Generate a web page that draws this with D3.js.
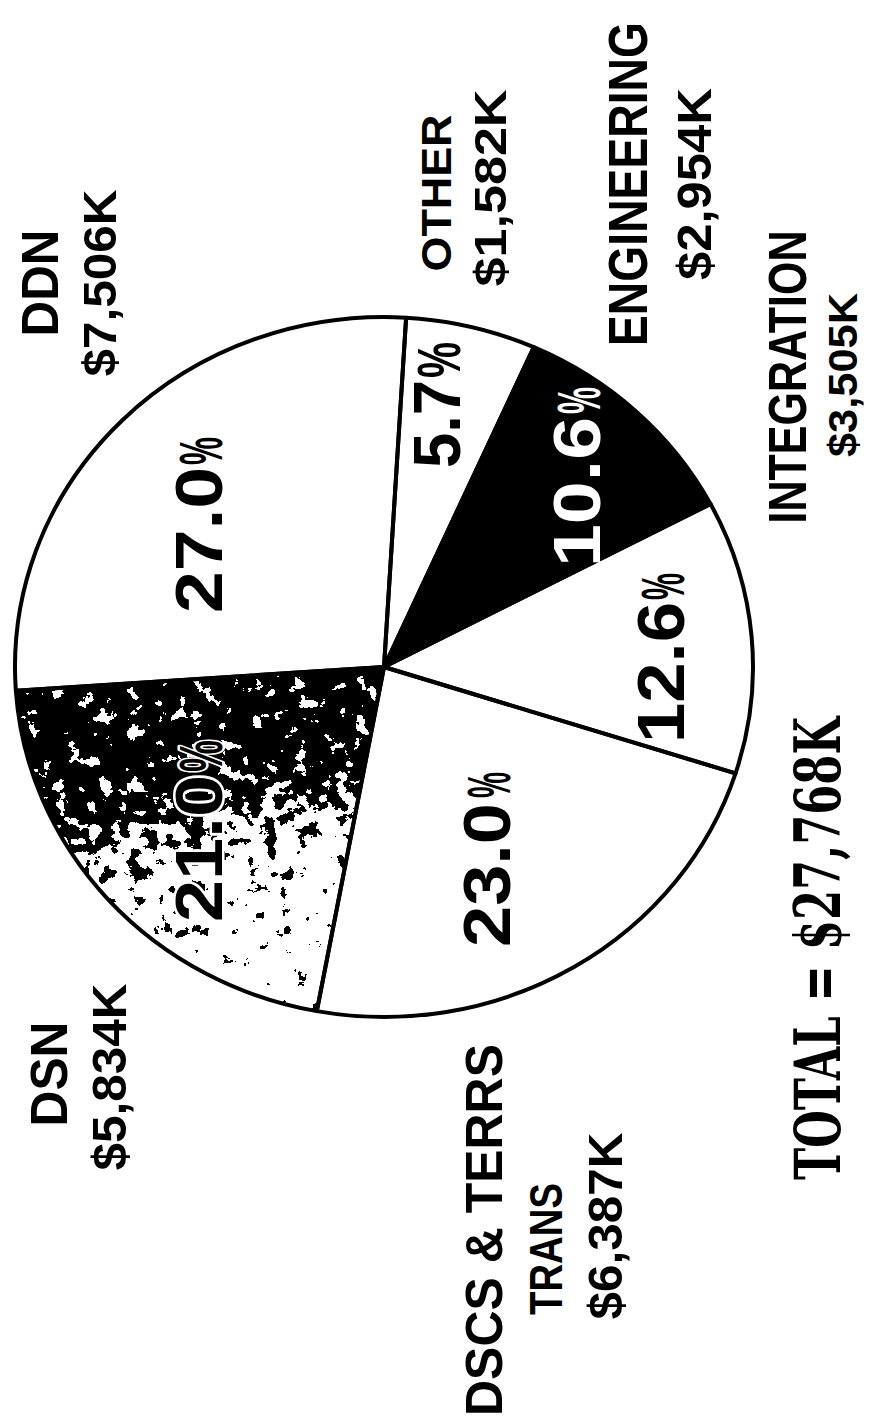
<!DOCTYPE html>
<html>
<head>
<meta charset="utf-8">
<script src="https://cdn.jsdelivr.net/npm/d3@7"></script>
<style>
  html, body { margin: 0; padding: 0; background: #fff; }
  svg { display: block; }
</style>
</head>
<body>
<script>
// ---- data (clockwise from the top of the pie) ----
const categories = ["OTHER", "ENGINEERING", "INTEGRATION", "DSCS & TERRS TRANS", "DSN", "DDN"];
const nameLines = [["OTHER"], ["ENGINEERING"], ["INTEGRATION"], ["DSCS & TERRS", "TRANS"], ["DSN"], ["DDN"]];
const values = [1582, 2954, 3505, 6387, 5834, 7506]; // $K
const totalLabel = "TOTAL";

// ---- styles / layout (kept apart from the data) ----
const sliceFill = ["#fff", "#000", "#fff", "#fff", "grain", "#fff"];
const pctColor = ["#000", "#fff", "#000", "#000", "#000", "#000"];
// name lines: [baselineX, centerY, length, fontSize, glyphHeightScale]
const nameLayout = [
  [[451, 193, 157, 42, 1]],
  [[647, 184, 324, 47, 1.18]],
  [[806, 377, 293, 54, 1]],
  [[502, 1230, 372, 51, 1], [562, 1249, 132, 47, 1]],
  [[67, 1074, 105, 52, 1]],
  [[58, 283, 107, 52, 1]]
];
// value line: [baselineX, centerY, length, fontSize]
const valueLayout = [
  [506, 188, 197, 45],
  [711, 184, 192, 48],
  [857, 375, 164, 40],
  [622, 1226, 187, 48],
  [126, 1077, 187, 49],
  [116, 283, 187, 47]
];
// percent label: [baselineX, startY, numberLength, pctStartY, pctLength]
const pctLayout = [
  [460, 468, 88, 378, 36],
  [600, 567, 150, 414, 27],
  [684, 743, 141, 600, 27],
  [510, 947, 144, 798, 26],
  [222, 922, 147, 772, 32],
  [222, 613, 146, 465, 28]
];
const totalLayout = [840, 1180, 463, 64];

const W = 872, H = 1427;
const cx = 384, cy = 667, rx = 369, ry = 350;
const startOffset = 0.06;

const svg = d3.select("body").append("svg").attr("width", W).attr("height", H);
svg.append("rect").attr("width", W).attr("height", H).attr("fill", "#fff");

const defs = svg.append("defs");
const grad = defs.append("linearGradient").attr("id", "dsnShade")
  .attr("x1", 0.1).attr("y1", 0).attr("x2", 0.3).attr("y2", 1);
[[0, "#707070"], [0.1, "#444"], [0.35, "#3e3e3e"], [0.5, "#787878"], [0.65, "#bcbcbc"], [1, "#e2e2e2"]]
  .forEach(([o, c]) => grad.append("stop").attr("offset", o).attr("stop-color", c));

const filt = defs.append("filter").attr("id", "grain")
  .attr("x", 0).attr("y", 0).attr("width", 1).attr("height", 1)
  .attr("color-interpolation-filters", "sRGB");
filt.append("feTurbulence").attr("type", "fractalNoise").attr("baseFrequency", 0.07)
  .attr("numOctaves", 4).attr("seed", 5).attr("result", "n");
filt.append("feColorMatrix").attr("in", "n").attr("type", "matrix")
  .attr("values", "1 0 0 0 0  1 0 0 0 0  1 0 0 0 0  0 0 0 0 1").attr("result", "nr");
filt.append("feComposite").attr("in", "SourceGraphic").attr("in2", "nr")
  .attr("operator", "arithmetic").attr("k1", 0).attr("k2", 1).attr("k3", 1.5).attr("k4", -0.75)
  .attr("result", "sum");
const ct = filt.append("feComponentTransfer").attr("in", "sum").attr("result", "th");
["feFuncR", "feFuncG", "feFuncB"].forEach(f => ct.append(f).attr("type", "discrete").attr("tableValues", "0 1"));
ct.append("feFuncA").attr("type", "linear").attr("slope", 0).attr("intercept", 1);
filt.append("feComposite").attr("in", "th").attr("in2", "SourceAlpha").attr("operator", "in");

// ---- pie ----
const pie = d3.pie().sort(null).startAngle(startOffset).endAngle(startOffset + 2 * Math.PI);
const arcs = pie(values);
const arc = d3.arc().innerRadius(0).outerRadius(ry);
const g = svg.append("g").attr("transform", `translate(${cx},${cy}) scale(${rx / ry},1)`);

g.selectAll("path.slice").data(arcs).join("path")
  .attr("class", "slice")
  .attr("d", arc)
  .attr("fill", (d, i) => sliceFill[i] === "grain" ? "url(#dsnShade)" : sliceFill[i])
  .attr("filter", (d, i) => sliceFill[i] === "grain" ? "url(#grain)" : null);

g.selectAll("path.edge").data(arcs).join("path")
  .attr("class", "edge")
  .attr("d", arc)
  .attr("fill", "none")
  .attr("stroke", "#000")
  .attr("stroke-width", 4)
  .attr("stroke-linejoin", "round")
  .attr("vector-effect", "non-scaling-stroke");

// ---- text helpers ----
const sans = "'Liberation Sans', Arial, Helvetica, sans-serif";
function vtext(x, startY, str, size, len, opts = {}) {
  const ys = opts.yScale || 1;
  const t = svg.append("text")
    .attr("transform", `translate(${x},${startY}) rotate(-90)` + (ys !== 1 ? ` scale(1,${ys})` : ""))
    .attr("text-anchor", "start")
    .attr("font-family", opts.family || sans)
    .attr("font-weight", opts.weight || "bold")
    .attr("font-size", size)
    .attr("fill", opts.fill || "#000")
    .attr("textLength", len)
    .attr("lengthAdjust", "spacingAndGlyphs")
    .text(str);
  if (opts.halo) {
    t.attr("stroke", opts.halo).attr("stroke-width", 5).attr("paint-order", "stroke").attr("stroke-linejoin", "round");
  }
  return t;
}

const total = d3.sum(values);
const fmtPct = d3.format(".1f");
const fmtK = d3.format(",");

arcs.forEach((d, i) => {
  nameLines[i].forEach((line, j) => {
    const [bx, cyL, len, fs, ys] = nameLayout[i][j];
    vtext(bx, cyL + len / 2, line, fs, len, { yScale: ys });
  });
  const [vx, vcy, vlen, vfs] = valueLayout[i];
  vtext(vx, vcy + vlen / 2, "$" + fmtK(d.value) + "K", vfs, vlen);
  const [px, ps, nl, pcs, pl] = pctLayout[i];
  const halo = sliceFill[i] === "grain" ? "#fff" : null;
  vtext(px, ps, fmtPct(d.value / total * 100), 66, nl, { fill: pctColor[i], halo });
  vtext(px, pcs, "%", 62, pl, { fill: pctColor[i], halo });
});

// ---- total ----
const [tx, ty, tl, tfs] = totalLayout;
vtext(tx, ty, `${totalLabel} = $${fmtK(total)}K`, tfs, tl,
  { family: "'DejaVu Serif', 'Liberation Serif', serif", weight: "bold" });
</script>
</body>
</html>
